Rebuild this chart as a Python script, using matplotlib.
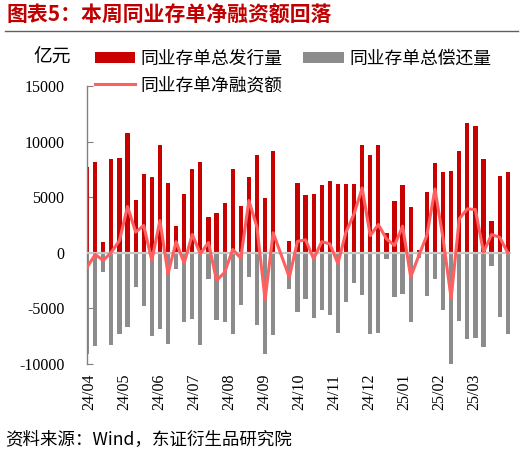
import numpy as np
import matplotlib
matplotlib.use("Agg")
import matplotlib.pyplot as plt

plt.rcParams['font.family'] = ['Liberation Serif', 'Noto Sans CJK SC', 'DejaVu Sans']

# weekly data (亿元); None = holiday week without data
issue = [7750, 8200, 990, 8470, 8560, 10780, 4790, 7070, 6830, 9670,
         6260, 2430, 5300, 7545, 8140, 3260, 3590, 4460, 7515, 4250,
         6800, 8830, 4910, 9130, None, 1020, 6280, 5230, 5290, 6100,
         6430, 6160, 6220, 6160, 9690, 8820, 9690, 1760, 4630, 6100,
         4100, 220, 5500, 8040, 7300, 7390, 9180, 11680, 11440, 8450,
         2820, 6940, 7240]
repay = [-9070, -8410, -1700, -8320, -7280, -6710, -3110, -4760, -7455, -6830,
         -8170, -1500, -6230, -5960, -8260, -2365, -6080, -6200, -7275, -4730,
         -2155, -6470, -9070, -7430, None, -3290, -5350, -4160, -5860, -5170,
         -5620, -7180, -4400, -2690, -3830, -7330, -7180, -600, -4010, -3680,
         -6220, -470, -3920, -2360, -5170, -10170, -6130, -7770, -7620, -8460,
         -1230, -5770, -7330]
net = [-1300, -150, -690, 60, 1100, 4160, 1860, 2455, -690, 2900,
       -1890, 990, -930, 1650, -90, 930, -2485, -1770, 300, -480,
       4700, 2300, -4220, 1800, None, -2200, 1020, 1170, -540, 990,
       810, -960, 1850, 3500, 5830, 1550, 2540, 1260, 660, 2390,
       -2180, -250, 1550, 5740, 1300, -4100, 3050, 3950, 3890, 60,
       1640, 1400, 0]
month_labels = ['24/04', '24/05', '24/06', '24/07', '24/08', '24/09',
                '24/10', '24/11', '24/12', '25/01', '25/02', '25/03']
y_ticks = [15000, 10000, 5000, 0, -5000, -10000]

RED = '#c80000'
GRAY = '#8c8c8c'
LINE = '#ff5f5f'

issue_a = np.array([np.nan if v is None else v for v in issue], dtype=float)
repay_a = np.array([np.nan if v is None else v for v in repay], dtype=float)
net_a = np.array([np.nan if v is None else v for v in net], dtype=float)
x = np.arange(len(issue_a))
m = ~np.isnan(net_a)

fig = plt.figure(figsize=(5.27, 4.57), dpi=100)
ax = fig.add_axes([86.7 / 527, 93 / 457, (511 - 86.7) / 527, (364 - 86) / 457])

b1 = ax.bar(x, np.nan_to_num(issue_a), width=0.52, color=RED, label='同业存单总发行量', zorder=2)
b2 = ax.bar(x, np.nan_to_num(repay_a), width=0.52, color=GRAY, label='同业存单总偿还量', zorder=2)
ax.axhline(0, color='#c8c8c8', lw=1.6, zorder=3)
l1, = ax.plot(x[m], net_a[m], color=LINE, lw=2.2, label='同业存单净融资额', zorder=4)

ax.set_xlim(-0.05, 52.4)
ax.set_ylim(-10000, 15000)
ax.set_yticks(y_ticks)
ax.set_yticklabels([str(v) for v in y_ticks], fontsize=11.5)
ax.tick_params(axis='y', direction='in', length=4, pad=16, color='#808080')

tick_pos = [0.27 + 4.33 * k for k in range(len(month_labels))]
ax.set_xticks(tick_pos)
ax.set_xticklabels(month_labels, rotation=90, fontsize=11.5, va='top')
ax.tick_params(axis='x', length=0, pad=7)

for s in ['top', 'right', 'bottom']:
    ax.spines[s].set_visible(False)
ax.spines['left'].set_color('#808080')
ax.spines['left'].set_linewidth(1.0)

leg = fig.legend(handles=[b1, l1, b2], ncol=2, loc='upper left',
                 bbox_to_anchor=(91 / 527, 1 - 46 / 457), frameon=False,
                 handlelength=2.3, handleheight=0.6,
                 handletextpad=0.3, columnspacing=1.15, labelspacing=0.5,
                 borderpad=0.2, borderaxespad=0,
                 prop={'family': ['Noto Sans CJK SC'], 'size': 12.8})

fig.text(33 / 527, 1 - 57 / 457, '亿元', fontsize=13.5, va='center', ha='left',
         family=['Noto Sans CJK SC'])

fig.text(7 / 527, 1 - 15 / 457, '图表5：本周同业存单净融资额回落', fontsize=15,
         fontweight='bold', color='#c00000', va='center', ha='left',
         family=['Noto Sans CJK SC', 'Liberation Serif'])
fig.add_artist(plt.Line2D([5 / 527, 518 / 527], [1 - 31 / 457, 1 - 31 / 457],
                          color='#606060', lw=1.0, transform=fig.transFigure))

fig.text(5 / 527, 1 - 440 / 457, '资料来源：Wind，东证衍生品研究院', fontsize=12.6,
         va='center', ha='left', family=['Noto Sans CJK SC', 'Liberation Serif'])

fig.savefig('out.png', dpi=100)
